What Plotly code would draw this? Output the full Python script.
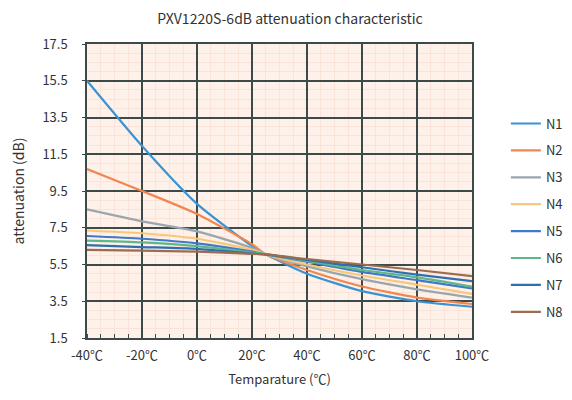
import plotly.graph_objects as go

temps = [-40, -20, 0, 20, 25, 40, 60, 80, 100]
series_names = ["N1", "N2", "N3", "N4", "N5", "N6", "N7", "N8"]
n1 = [15.5, 11.95, 8.8, 6.5, 6.05, 5.0, 4.05, 3.5, 3.2]
n2 = [10.7, 9.5, 8.25, 6.6, 6.05, 5.2, 4.3, 3.7, 3.35]
n3 = [8.5, 7.85, 7.3, 6.4, 6.05, 5.4, 4.7, 4.15, 3.7]
n4 = [7.35, 7.2, 6.9, 6.3, 6.05, 5.5, 4.9, 4.4, 3.9]
n5 = [7.05, 6.9, 6.65, 6.2, 6.05, 5.65, 5.1, 4.65, 4.2]
n6 = [6.8, 6.7, 6.5, 6.15, 6.05, 5.7, 5.2, 4.8, 4.3]
n7 = [6.55, 6.45, 6.35, 6.1, 6.05, 5.75, 5.35, 4.95, 4.6]
n8 = [6.3, 6.25, 6.2, 6.08, 6.05, 5.8, 5.5, 5.2, 4.87]
series_values = [n1, n2, n3, n4, n5, n6, n7, n8]
colors = ["#3a93d3", "#f0874f", "#9aa6ae", "#f7c77a", "#4178c8", "#5cb88c", "#2f6fb0", "#9c6c50"]
x_ticks = [-40, -20, 0, 20, 40, 60, 80, 100]
x_labels = [f"{t}℃" for t in x_ticks]
y_ticks = [1.5, 3.5, 5.5, 7.5, 9.5, 11.5, 13.5, 15.5, 17.5]

FONT = "Noto Sans CJK JP"
fig = go.Figure()
for name, vals, c in zip(series_names, series_values, colors):
    fig.add_trace(go.Scatter(x=temps, y=vals, name=name, mode="lines", legendgroup=name,
                             line=dict(color=c, width=2.2, shape="spline", smoothing=0.6)))

fig.update_layout(
    width=564, height=392,
    margin=dict(l=79, r=100, t=36, b=62, autoexpand=False),
    paper_bgcolor="white",
    plot_bgcolor="#fdf1ea",
    font=dict(family=FONT, size=13, color="#333333"),
    title=dict(text="PXV1220S-6dB attenuation characteristic", x=0.5, xanchor="center",
               y=0.972, yanchor="middle", font=dict(size=14, color="#333333")),
    showlegend=True,
    legend=dict(x=1.088, xanchor="left", y=0.408, yanchor="middle",
                font=dict(size=13, color="#333333"), tracegroupgap=7,
                itemwidth=30, bgcolor="rgba(0,0,0,0)"),
)
fig.update_xaxes(
    range=[-40, 100], tickvals=x_ticks, ticktext=x_labels, automargin=False,
    showgrid=True, gridcolor="#3d4a4a", gridwidth=1.5,
    zeroline=False, showline=True, linecolor="#3d4a4a", linewidth=1.5, mirror=True,
    ticks="", tickfont=dict(size=13), ticklabelstandoff=5,
    minor=dict(dtick=5, showgrid=True, gridcolor="#fae4d9", gridwidth=1, ticks="inside", ticklen=4, tickcolor="#3d4a4a"),
    title=dict(text="Temparature (℃)", font=dict(size=13), standoff=12),
)
fig.update_yaxes(
    range=[1.5, 17.5], tickvals=y_ticks, ticktext=[f"{v}" for v in y_ticks], automargin=False,
    showgrid=True, gridcolor="#3d4a4a", gridwidth=1.5,
    zeroline=False, showline=True, linecolor="#3d4a4a", linewidth=1.5, mirror=True,
    ticks="outside", ticklen=3, tickcolor="#3d4a4a", tickfont=dict(size=13), ticklabelstandoff=12,
    minor=dict(dtick=0.5, showgrid=True, gridcolor="#fae4d9", gridwidth=1),
    title=dict(text="attenuation (dB)", font=dict(size=14), standoff=28),
)
fig.write_html("out.html")
